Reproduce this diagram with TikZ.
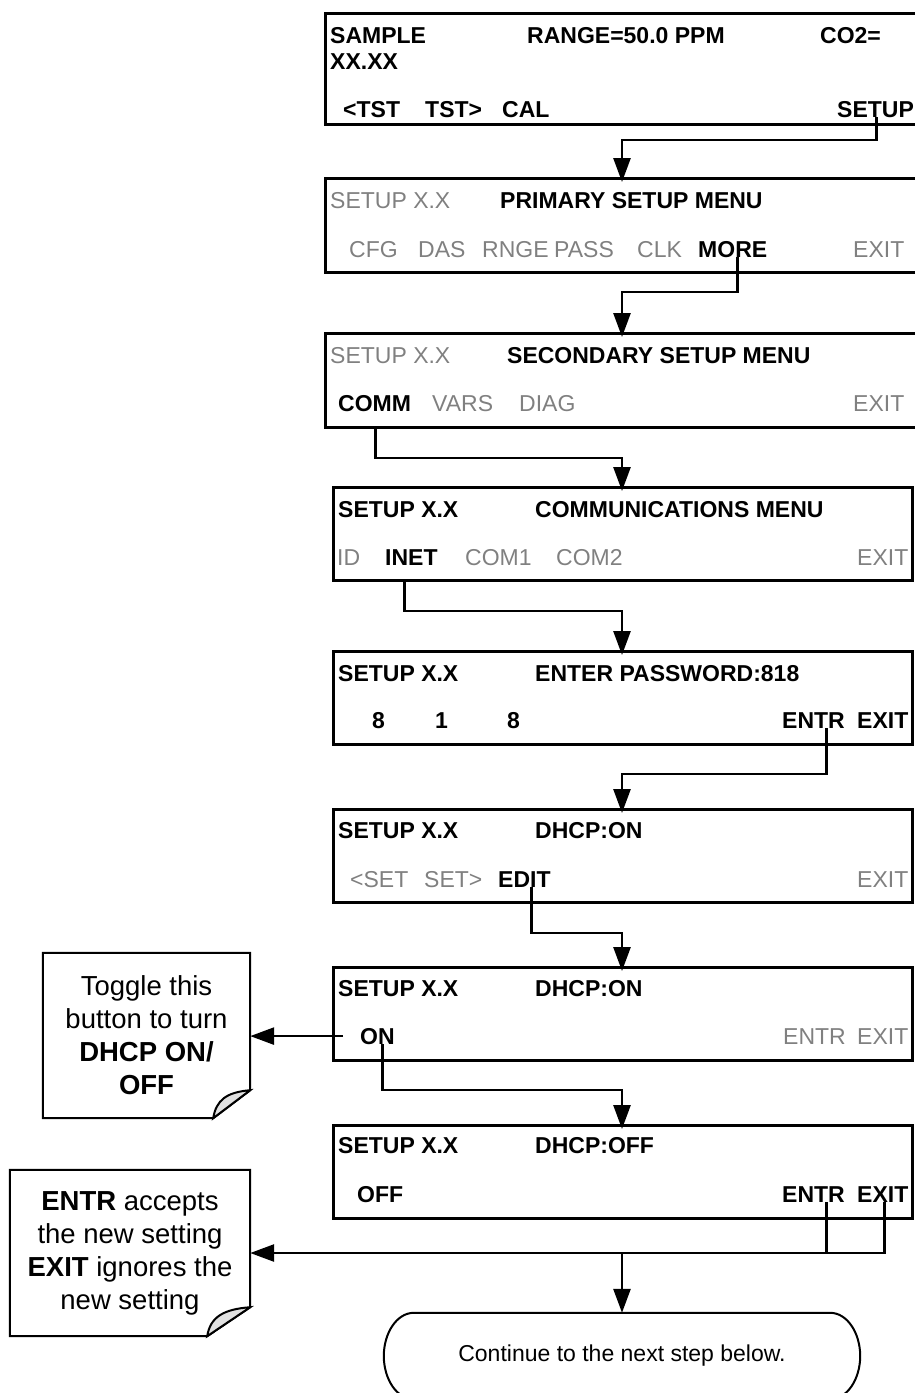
\documentclass[tikz,border=0pt]{standalone}
\usepackage{fontspec}
\setmainfont{Liberation Sans}
\usetikzlibrary{arrows.meta,calc}
\definecolor{dimgray}{RGB}{128,128,128}
\definecolor{foldgray}{RGB}{225,225,225}
\begin{document}
\begin{tikzpicture}[x=1pt,y=-1pt,
  scr/.style={draw,line width=3pt,anchor=north west,inner sep=0pt,minimum height=93pt,minimum width=579pt},
  bt/.style={anchor=base west,inner sep=0pt,font=\fontsize{23}{27}\selectfont\bfseries},
  gt/.style={anchor=base west,inner sep=0pt,text=dimgray,font=\fontsize{23}{27}\selectfont},
  conn/.style={line width=2.7pt},
  arr/.style={line width=2.7pt,-{Triangle[length=24pt,width=17pt]},shorten >=-5pt},
  arrl/.style={line width=2.7pt,-{Triangle[length=24pt,width=17pt]}},
  notetext/.style={inner sep=0pt,align=center,font=\fontsize{27.5}{33}\selectfont},
  nline/.style={line width=2pt,line join=miter}
]
\path[use as bounding box] (0,0) rectangle (915,1393);
\clip (0,0) rectangle (915,1393);

% ---------- screens ----------
\node[scr,minimum width=611pt,minimum height=111pt] (b1) at (324,12) {};
\node[scr,minimum width=611pt,minimum height=94pt] (b2) at (324,177) {};
\node[scr,minimum width=611pt,minimum height=94pt] (b3) at (324,332) {};
\node[scr] (b4) at (332,486) {};
\node[scr] (b5) at (332,650) {};
\node[scr] (b6) at (332,808) {};
\node[scr] (b7) at (332,966) {};
\node[scr] (b8) at (332,1124) {};

% box 1
\node[bt] (t1a) at (330,43) {SAMPLE};
\node[bt] (t1b) at (330,69) {XX.XX};
\node[bt] (t1c) at (527,43) {RANGE=50.0 PPM};
\node[bt] (t1d) at (820,43) {CO2=};
\node[bt] (t1e) at (343,117) {<TST};
\node[bt] (t1f) at (425,117) {TST>};
\node[bt] (t1g) at (502,117) {CAL};
\node[bt] (t1setup) at (837,117) {SETUP};

% box 2
\node[gt] (t2a) at (330,208) {SETUP X.X};
\node[bt] (t2b) at (500,208) {PRIMARY SETUP MENU};
\node[gt] (t2c) at (349,257) {CFG};
\node[gt] (t2d) at (418,257) {DAS};
\node[gt] (t2e) at (482,257) {RNGE};
\node[gt] (t2f) at (554,257) {PASS};
\node[gt] (t2g) at (637,257) {CLK};
\node[bt] (t2more) at (698,257) {MORE};
\node[gt] (t2exit) at (853,257) {EXIT};

% box 3
\node[gt] (t3a) at (330,363) {SETUP X.X};
\node[bt] (t3b) at (507,363) {SECONDARY SETUP MENU};
\node[bt] (t3comm) at (338,411) {COMM};
\node[gt] (t3c) at (432,411) {VARS};
\node[gt] (t3d) at (519,411) {DIAG};
\node[gt] (t3exit) at (853,411) {EXIT};

% box 4
\node[bt] (t4a) at (338,517) {SETUP X.X};
\node[bt] (t4b) at (535,517) {COMMUNICATIONS MENU};
\node[gt] (t4c) at (337,565) {ID};
\node[bt] (t4inet) at (385,565) {INET};
\node[gt] (t4d) at (465,565) {COM1};
\node[gt] (t4e) at (556,565) {COM2};
\node[gt] (t4exit) at (857,565) {EXIT};

% box 5
\node[bt] (t5a) at (338,681) {SETUP X.X};
\node[bt] (t5b) at (535,681) {ENTER PASSWORD:818};
\node[bt] (t5c) at (372,728) {8};
\node[bt] (t5d) at (435,728) {1};
\node[bt] (t5e) at (507,728) {8};
\node[bt] (t5entr) at (782,728) {ENTR};
\node[bt] (t5exit) at (857,728) {EXIT};

% box 6
\node[bt] (t6a) at (338,838) {SETUP X.X};
\node[bt] (t6b) at (535,838) {DHCP:ON};
\node[gt] (t6c) at (350,887) {<SET};
\node[gt] (t6d) at (424,887) {SET>};
\node[bt] (t6edit) at (498,887) {EDIT};
\node[gt] (t6exit) at (857,887) {EXIT};

% box 7
\node[bt] (t7a) at (338,996) {SETUP X.X};
\node[bt] (t7b) at (535,996) {DHCP:ON};
\node[bt] (t7on) at (360,1044) {ON};
\node[gt] (t7entr) at (783,1044) {ENTR};
\node[gt] (t7exit) at (857,1044) {EXIT};

% box 8
\node[bt] (t8a) at (338,1153) {SETUP X.X};
\node[bt] (t8b) at (535,1153) {DHCP:OFF};
\node[bt] (t8off) at (357,1202) {OFF};
\node[bt] (t8entr) at (782,1202) {ENTR};
\node[bt] (t8exit) at (857,1202) {EXIT};

% ---------- notes ----------
\node[notetext,minimum width=207pt,minimum height=165pt] (note1) at (146.5,1035.5) {Toggle this\\button to turn\\\textbf{DHCP ON/}\\\textbf{OFF}};
\draw[nline] (note1.north west) -- (note1.north east) -- ([yshift=28pt]note1.south east) -- ([xshift=-37pt]note1.south east) -- (note1.south west) -- cycle;
\filldraw[nline,fill=foldgray] ([xshift=-37pt]note1.south east) .. controls +(3,-18) and +(-24,2) .. ([yshift=28pt]note1.south east) -- cycle;

\node[notetext,minimum width=240pt,minimum height=166pt] (note2) at (130,1253) {\textbf{ENTR} accepts\\the new setting\\\textbf{EXIT} ignores the\\new setting};
\draw[nline] (note2.north west) -- (note2.north east) -- ([yshift=29pt]note2.south east) -- ([xshift=-43pt]note2.south east) -- (note2.south west) -- cycle;
\filldraw[nline,fill=foldgray] ([xshift=-43pt]note2.south east) .. controls +(3,-19) and +(-27,2) .. ([yshift=29pt]note2.south east) -- cycle;

% ---------- final terminal ----------
\node[inner sep=0pt,minimum width=476pt,minimum height=86pt,font=\fontsize{23}{27}\selectfont] (fin) at (622,1356) {Continue to the next step below.};
\draw[line width=2pt] ($(fin.north west)+(30,0)$) -- ($(fin.north east)+(-30,0)$)
  .. controls +(17,0) and +(0,-23) .. (fin.east)
  .. controls +(0,23) and +(17,0) .. ($(fin.south east)+(-30,0)$)
  -- ($(fin.south west)+(30,0)$)
  .. controls +(-17,0) and +(0,23) .. (fin.west)
  .. controls +(0,-23) and +(-17,0) .. ($(fin.north west)+(30,0)$) -- cycle;

% ---------- connectors ----------
\coordinate (k1) at (622,140);
\coordinate (k2) at (622,292);
\coordinate (k3) at (622,458);
\coordinate (k4) at (622,611);
\coordinate (k5) at (622,774);
\coordinate (k6) at (622,933);
\coordinate (k7) at (622,1090);
\coordinate (k8) at (622,1253);

\coordinate (s1) at ([xshift=1pt]t1setup.south);
\coordinate (s2) at ([xshift=4.5pt]t2more.south);
\coordinate (s3) at ([xshift=1pt]t3comm.south);
\coordinate (s4) at ([xshift=-7pt]t4inet.south);
\coordinate (s5) at ([xshift=13pt]t5entr.south);
\coordinate (s6) at ([xshift=7pt]t6edit.south);
\coordinate (s7) at ([xshift=5pt]t7on.south);
\coordinate (s7l) at ([xshift=-17pt]t7on.west);
\coordinate (s8a) at ([xshift=13pt]t8entr.south);
\coordinate (s8b) at ([xshift=1.5pt]t8exit.south);

\draw[arr] (s1) |- (k1) -- (k1 |- b2.north);
\draw[arr] (s2) |- (k2) -- (k2 |- b3.north);
\draw[arr] (s3 |- b3.south) |- (k3) -- (k3 |- b4.north);
\draw[arr] (s4 |- b4.south) |- (k4) -- (k4 |- b5.north);
\draw[arr] (s5) |- (k5) -- (k5 |- b6.north);
\draw[arr] (s6) |- (k6) -- (k6 |- b7.north);
\draw[arr] (s7) |- (k7) -- (k7 |- b8.north);
\draw[arrl] (s7l) -- (note1.east |- s7l);
\draw[conn] (s8a) -- (s8a |- k8);
\draw[arrl] (s8b) |- (note2.east |- k8);
\draw[arrl] (k8) -- (k8 |- fin.north);
\end{tikzpicture}
\end{document}
